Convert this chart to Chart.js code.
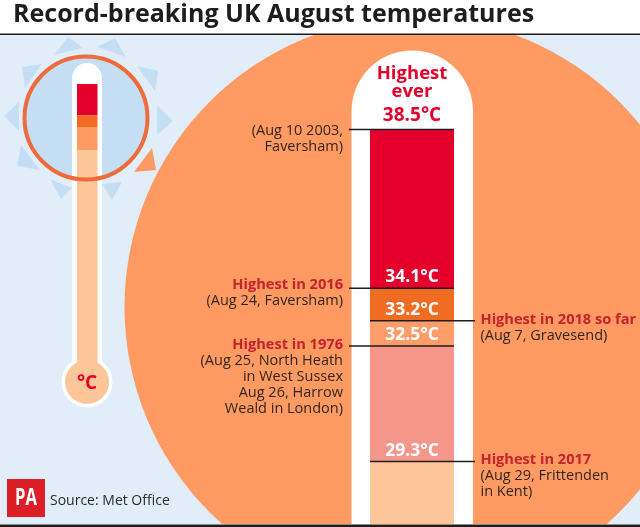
<!DOCTYPE html>
<html>
<head>
<meta charset="utf-8">
<title>Record-breaking UK August temperatures</title>
<script src="https://cdn.jsdelivr.net/npm/chart.js@4/dist/chart.umd.min.js"></script>
<style>
  html, body { margin: 0; padding: 0; background: #fff; }
  canvas { display: block; }
</style>
</head>
<body>
<canvas id="chart" width="640" height="527"></canvas>
<script>
const titleText = 'Record-breaking UK August temperatures';
const sourceText = 'Source: Met Office';

// highest temperature of each record, top of the thermometer first
const recordTemps = [38.5, 34.1, 33.2, 32.5, 29.3];
const tempLabels = ['38.5°C', '34.1°C', '33.2°C', '32.5°C', '29.3°C'];
const recordHeads = [null, 'Highest in 2016', 'Highest in 2018 so far', 'Highest in 1976', 'Highest in 2017'];
const recordDetails = [
  ['(Aug 10 2003,', 'Faversham)'],
  ['(Aug 24, Faversham)'],
  ['(Aug 7, Gravesend)'],
  ['(Aug 25, North Heath', 'in West Sussex', 'Aug 26, Harrow', 'Weald in London)'],
  ['(Aug 29, Frittenden', 'in Kent)']
];
const recordSides = ['left', 'left', 'right', 'left', 'right'];
const scaleFloor = 27.57;

const RED = '#E4002B';
const bandColors = ['#E4002B', '#F06C22', '#FE9D6A', '#F4968A', '#FDC698'];
const HEAD_RED = '#C4232B';
const TEXT = '#33261E';
const ORANGE = '#FF9A63';
const PALE = '#E1EDF8';
const SKY = '#C6DEF3';
const FONT = '"Open Sans"';

// nudges so the label blocks sit where they do in the print graphic
const labelNudge = [1, -3, -1, -1, -1.5];

// one floating bar per band, each going down to the next record
const bands = recordTemps.map((t, i) => [i + 1 < recordTemps.length ? recordTemps[i + 1] : scaleFloor, t]);

function poly(ctx, pts, color) {
  ctx.fillStyle = color;
  ctx.beginPath();
  pts.forEach((p, i) => i ? ctx.lineTo(p[0], p[1]) : ctx.moveTo(p[0], p[1]));
  ctx.closePath();
  ctx.fill();
}

function tube(ctx, left, right, top, bottom, color) {
  const r = (right - left) / 2;
  ctx.fillStyle = color;
  ctx.beginPath();
  ctx.moveTo(left, bottom);
  ctx.lineTo(left, top + r);
  ctx.arc(left + r, top + r, r, Math.PI, 0);
  ctx.lineTo(right, bottom);
  ctx.closePath();
  ctx.fill();
}

function drawInset(ctx) {
  const rays = [
    [[54, 55], [68, 37], [83, 48]], [[97, 47], [115, 38], [126, 57]],
    [[137, 66], [158, 71], [155, 91]], [[157, 105], [173, 121], [157, 135]],
    [[102, 184], [122, 182], [112, 200]], [[50, 179], [72, 188], [61, 199]],
    [[21, 145], [40, 170], [17, 166]], [[19, 102], [4, 116], [19, 131]],
    [[22, 67], [42, 64], [25, 88]]
  ];
  rays.forEach(r => poly(ctx, r, SKY));
  poly(ctx, [[134, 172], [152, 148], [156, 170]], ORANGE);

  ctx.fillStyle = SKY;
  ctx.beginPath();
  ctx.arc(86, 118, 62, 0, Math.PI * 2);
  ctx.fill();

  // white glass, then the bulb and the coloured column
  tube(ctx, 72, 102, 63, 365, '#fff');
  ctx.fillStyle = '#fff';
  ctx.beginPath();
  ctx.arc(87, 382, 25.5, 0, Math.PI * 2);
  ctx.fill();
  ctx.fillStyle = bandColors[4];
  ctx.beginPath();
  ctx.arc(87, 382, 22, 0, Math.PI * 2);
  ctx.fill();
  ctx.fillRect(77, 150, 20.5, 215);
  ctx.fillStyle = bandColors[0];
  ctx.fillRect(77, 84, 20.5, 31.5);
  ctx.fillStyle = bandColors[1];
  ctx.fillRect(77, 115.5, 20.5, 11.5);
  ctx.fillStyle = ORANGE;
  ctx.fillRect(77, 127, 20.5, 23);

  ctx.strokeStyle = '#EE6B3C';
  ctx.lineWidth = 4;
  ctx.beginPath();
  ctx.arc(86, 118, 61.5, 0, Math.PI * 2);
  ctx.stroke();

  ctx.fillStyle = RED;
  ctx.font = 'bold 19px ' + FONT;
  ctx.textAlign = 'center';
  ctx.textBaseline = 'middle';
  ctx.fillText('°C', 87, 384);
}

const backdrop = {
  id: 'backdrop',
  beforeDatasetsDraw(chart) {
    const { ctx, width, height } = chart;
    ctx.save();
    ctx.fillStyle = '#fff';
    ctx.fillRect(0, 0, width, height);
    ctx.fillStyle = PALE;
    ctx.fillRect(0, 35, width, 489);

    ctx.save();
    ctx.beginPath();
    ctx.rect(0, 35, width, 489);
    ctx.clip();
    ctx.fillStyle = ORANGE;
    ctx.beginPath();
    ctx.arc(414.5, 307, 290, 0, Math.PI * 2);
    ctx.fill();
    ctx.restore();

    drawInset(ctx);
    tube(ctx, 351.5, 473, 50.5, 524, '#fff');

    ctx.fillStyle = '#1d1d1b';
    ctx.fillRect(0, 33.5, width, 1.5);
    ctx.fillRect(0, 524.5, width, 2.5);
    ctx.restore();
  }
};

const annotations = {
  id: 'annotations',
  afterDatasetsDraw(chart) {
    const { ctx, chartArea } = chart;
    const y = chart.scales.y;
    const midX = (chartArea.left + chartArea.right) / 2;
    ctx.save();
    ctx.textBaseline = 'middle';

    recordTemps.forEach((t, i) => {
      const py = y.getPixelForValue(t);
      const left = recordSides[i] === 'left';
      ctx.strokeStyle = '#1d1d1b';
      ctx.lineWidth = 1.5;
      ctx.beginPath();
      ctx.moveTo(left ? chartArea.left - 21 : chartArea.left, py);
      ctx.lineTo(left ? chartArea.right : chartArea.right + 21, py);
      ctx.stroke();

      ctx.textAlign = 'center';
      ctx.font = 'bold ' + (i === 0 ? 19 : 17.5) + 'px ' + FONT;
      ctx.fillStyle = i === 0 ? RED : '#fff';
      ctx.fillText(tempLabels[i], midX, py - (i === 0 ? 14 : 11));

      ctx.textAlign = left ? 'right' : 'left';
      const tx = left ? chartArea.left - 27 : chartArea.right + 26.5;
      let line = py + labelNudge[i];
      if (recordHeads[i]) {
        ctx.font = 'bold 14.6px ' + FONT;
        ctx.fillStyle = HEAD_RED;
        ctx.fillText(recordHeads[i], tx, line);
        line += 16;
      }
      ctx.font = '14.5px ' + FONT;
      ctx.fillStyle = TEXT;
      recordDetails[i].forEach(d => {
        ctx.fillText(d, tx, line);
        line += 16;
      });
    });

    ctx.textAlign = 'center';
    ctx.font = 'bold 18.5px ' + FONT;
    ctx.fillStyle = RED;
    ctx.fillText('Highest', midX, 74);
    ctx.fillText('ever', midX, 92);

    ctx.textAlign = 'left';
    ctx.font = 'bold 25px ' + FONT;
    ctx.fillStyle = '#1d1d1b';
    ctx.fillText(titleText, 13, 15);

    ctx.fillStyle = '#DB1F26';
    ctx.fillRect(7, 479, 38, 38);
    ctx.fillStyle = '#fff';
    ctx.textAlign = 'center';
    ctx.font = 'bold 24px ' + FONT;
    ctx.fillText('PA', 26, 498, 22);

    ctx.textAlign = 'left';
    ctx.fillStyle = '#2b2b2b';
    ctx.font = '14px ' + FONT;
    ctx.fillText(sourceText, 50, 501);
    ctx.restore();
  }
};

new Chart(document.getElementById('chart'), {
  type: 'bar',
  data: {
    labels: ['UK August record'],
    datasets: bands.map((b, i) => ({
      label: tempLabels[i],
      data: [b],
      backgroundColor: bandColors[i],
      borderWidth: 0,
      barPercentage: 1,
      categoryPercentage: 1
    }))
  },
  options: {
    responsive: false,
    animation: false,
    layout: { padding: { left: 370, right: 186, top: 129.5, bottom: 3 } },
    scales: {
      x: { display: false, stacked: true },
      y: { display: false, min: scaleFloor, max: 38.5 }
    },
    plugins: { legend: { display: false }, tooltip: { enabled: false } }
  },
  plugins: [backdrop, annotations]
});
</script>
</body>
</html>
